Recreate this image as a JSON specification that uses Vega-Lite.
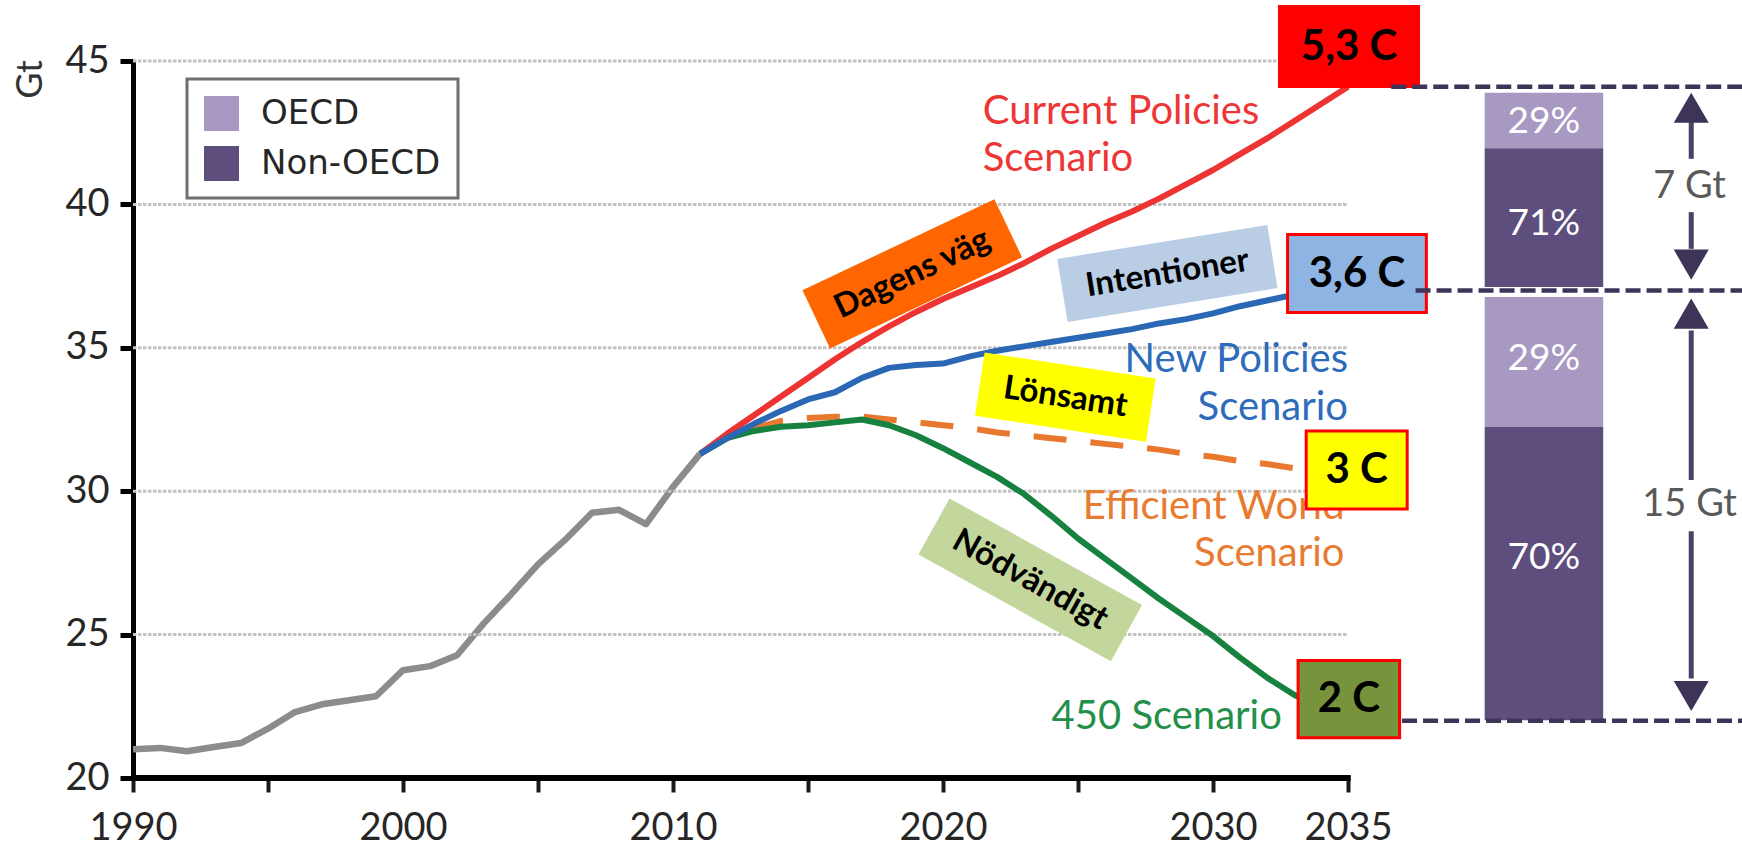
{
  "$schema": "https://vega.github.io/schema/vega-lite/v6.json",
  "width": 1609,
  "height": 717,
  "autosize": {"type": "none"},
  "padding": {"left": 133, "top": 61, "right": 0, "bottom": 70},
  "background": "#ffffff",
  "config": {
    "view": {"stroke": null},
    "font": "Lato",
    "legend": {"strokeWidth": 3}
  },
  "datasets": {
    "grid": [{"v": 25}, {"v": 30}, {"v": 35}, {"v": 40}, {"v": 45}],
    "hist": [
      {"year": 1990, "value": 21.0}, {"year": 1991, "value": 21.05}, {"year": 1992, "value": 20.93},
      {"year": 1993, "value": 21.08}, {"year": 1994, "value": 21.22}, {"year": 1995, "value": 21.72},
      {"year": 1996, "value": 22.3}, {"year": 1997, "value": 22.57}, {"year": 1998, "value": 22.71},
      {"year": 1999, "value": 22.85}, {"year": 2000, "value": 23.76}, {"year": 2001, "value": 23.9},
      {"year": 2002, "value": 24.28}, {"year": 2003, "value": 25.4}, {"year": 2004, "value": 26.4},
      {"year": 2005, "value": 27.45}, {"year": 2006, "value": 28.3}, {"year": 2007, "value": 29.25},
      {"year": 2008, "value": 29.35}, {"year": 2009, "value": 28.85}, {"year": 2010, "value": 30.15},
      {"year": 2011, "value": 31.3}
    ],
    "scen": [
      {"s": "CP", "year": 2011, "value": 31.3}, {"s": "CP", "year": 2012, "value": 32.0}, {"s": "CP", "year": 2013, "value": 32.65},
      {"s": "CP", "year": 2014, "value": 33.3}, {"s": "CP", "year": 2015, "value": 33.95}, {"s": "CP", "year": 2016, "value": 34.6},
      {"s": "CP", "year": 2017, "value": 35.2}, {"s": "CP", "year": 2018, "value": 35.75}, {"s": "CP", "year": 2019, "value": 36.25},
      {"s": "CP", "year": 2020, "value": 36.7}, {"s": "CP", "year": 2021, "value": 37.1}, {"s": "CP", "year": 2022, "value": 37.5},
      {"s": "CP", "year": 2023, "value": 37.95}, {"s": "CP", "year": 2024, "value": 38.45}, {"s": "CP", "year": 2025, "value": 38.9},
      {"s": "CP", "year": 2026, "value": 39.35}, {"s": "CP", "year": 2027, "value": 39.75}, {"s": "CP", "year": 2028, "value": 40.2},
      {"s": "CP", "year": 2029, "value": 40.7}, {"s": "CP", "year": 2030, "value": 41.2}, {"s": "CP", "year": 2031, "value": 41.75},
      {"s": "CP", "year": 2032, "value": 42.3}, {"s": "CP", "year": 2033, "value": 42.9}, {"s": "CP", "year": 2034, "value": 43.5},
      {"s": "CP", "year": 2035, "value": 44.1},
      {"s": "NP", "year": 2011, "value": 31.3}, {"s": "NP", "year": 2012, "value": 31.85}, {"s": "NP", "year": 2013, "value": 32.35},
      {"s": "NP", "year": 2014, "value": 32.8}, {"s": "NP", "year": 2015, "value": 33.2}, {"s": "NP", "year": 2016, "value": 33.45},
      {"s": "NP", "year": 2017, "value": 33.95}, {"s": "NP", "year": 2018, "value": 34.3}, {"s": "NP", "year": 2019, "value": 34.4},
      {"s": "NP", "year": 2020, "value": 34.45}, {"s": "NP", "year": 2021, "value": 34.7}, {"s": "NP", "year": 2022, "value": 34.9},
      {"s": "NP", "year": 2023, "value": 35.05}, {"s": "NP", "year": 2024, "value": 35.2}, {"s": "NP", "year": 2025, "value": 35.35},
      {"s": "NP", "year": 2026, "value": 35.5}, {"s": "NP", "year": 2027, "value": 35.65}, {"s": "NP", "year": 2028, "value": 35.85},
      {"s": "NP", "year": 2029, "value": 36.0}, {"s": "NP", "year": 2030, "value": 36.2}, {"s": "NP", "year": 2031, "value": 36.45},
      {"s": "NP", "year": 2032, "value": 36.65}, {"s": "NP", "year": 2033, "value": 36.85}, {"s": "NP", "year": 2034, "value": 37.0},
      {"s": "NP", "year": 2035, "value": 37.05},
      {"s": "EW", "year": 2011, "value": 31.3}, {"s": "EW", "year": 2012, "value": 31.85}, {"s": "EW", "year": 2013, "value": 32.2},
      {"s": "EW", "year": 2014, "value": 32.45}, {"s": "EW", "year": 2015, "value": 32.55}, {"s": "EW", "year": 2016, "value": 32.6},
      {"s": "EW", "year": 2017, "value": 32.6}, {"s": "EW", "year": 2018, "value": 32.5}, {"s": "EW", "year": 2019, "value": 32.4},
      {"s": "EW", "year": 2020, "value": 32.3}, {"s": "EW", "year": 2021, "value": 32.2}, {"s": "EW", "year": 2022, "value": 32.05},
      {"s": "EW", "year": 2023, "value": 31.95}, {"s": "EW", "year": 2024, "value": 31.85}, {"s": "EW", "year": 2025, "value": 31.75},
      {"s": "EW", "year": 2026, "value": 31.65}, {"s": "EW", "year": 2027, "value": 31.55}, {"s": "EW", "year": 2028, "value": 31.45},
      {"s": "EW", "year": 2029, "value": 31.3}, {"s": "EW", "year": 2030, "value": 31.2}, {"s": "EW", "year": 2031, "value": 31.05},
      {"s": "EW", "year": 2032, "value": 30.95}, {"s": "EW", "year": 2033, "value": 30.8}, {"s": "EW", "year": 2034, "value": 30.65},
      {"s": "EW", "year": 2035, "value": 30.55},
      {"s": "450", "year": 2011, "value": 31.3}, {"s": "450", "year": 2012, "value": 31.85}, {"s": "450", "year": 2013, "value": 32.1},
      {"s": "450", "year": 2014, "value": 32.25}, {"s": "450", "year": 2015, "value": 32.3}, {"s": "450", "year": 2016, "value": 32.4},
      {"s": "450", "year": 2017, "value": 32.5}, {"s": "450", "year": 2018, "value": 32.3}, {"s": "450", "year": 2019, "value": 31.95},
      {"s": "450", "year": 2020, "value": 31.5}, {"s": "450", "year": 2021, "value": 31.0}, {"s": "450", "year": 2022, "value": 30.5},
      {"s": "450", "year": 2023, "value": 29.9}, {"s": "450", "year": 2024, "value": 29.15}, {"s": "450", "year": 2025, "value": 28.35},
      {"s": "450", "year": 2026, "value": 27.65}, {"s": "450", "year": 2027, "value": 26.95}, {"s": "450", "year": 2028, "value": 26.25},
      {"s": "450", "year": 2029, "value": 25.6}, {"s": "450", "year": 2030, "value": 24.95}, {"s": "450", "year": 2031, "value": 24.2},
      {"s": "450", "year": 2032, "value": 23.5}, {"s": "450", "year": 2033, "value": 22.9}, {"s": "450", "year": 2034, "value": 22.45},
      {"s": "450", "year": 2035, "value": 22.0}
    ],
    "slabels": [
      {"s": "CP", "label": "Current Policies\nScenario", "x": 2021.47, "y": 42.81},
      {"s": "NP", "label": "New Policies\nScenario", "x": 2035.0, "y": 34.15},
      {"s": "EW", "label": "Efficient World\nScenario", "x": 2034.87, "y": 29.04},
      {"s": "450", "label": "450 Scenario", "x": 2032.55, "y": 21.72}
    ],
    "tags": [
      {"tag": "Dagens väg", "x": 2018.86, "y": 37.58},
      {"tag": "Intentioner", "x": 2028.31, "y": 37.59},
      {"tag": "Lönsamt", "x": 2024.53, "y": 33.28},
      {"tag": "Nödvändigt", "x": 2023.23, "y": 26.91}
    ],
    "temps": [
      {"t": "5,3 C", "x0": 2032.46, "x1": 2037.61, "y0": 44.11, "y1": 46.9, "xc": 2035.04, "yc": 45.5},
      {"t": "3,6 C", "x0": 2032.76, "x1": 2037.9, "y0": 36.23, "y1": 38.95, "xc": 2035.33, "yc": 37.59},
      {"t": "3 C", "x0": 2033.45, "x1": 2037.19, "y0": 29.38, "y1": 32.1, "xc": 2035.32, "yc": 30.74},
      {"t": "2 C", "x0": 2033.15, "x1": 2036.91, "y0": 21.4, "y1": 24.1, "xc": 2035.03, "yc": 22.75}
    ],
    "bars": [
      {"region": "OECD", "lo": 41.96, "hi": 43.89},
      {"region": "Non-OECD", "lo": 37.12, "hi": 41.96},
      {"region": "OECD", "lo": 32.24, "hi": 36.77},
      {"region": "Non-OECD", "lo": 22.01, "hi": 32.24}
    ],
    "pcts": [
      {"label": "29%", "v": 42.87}, {"label": "71%", "v": 39.3},
      {"label": "29%", "v": 34.6}, {"label": "70%", "v": 27.68}
    ],
    "levels": [{"x0": 2036.6, "v": 44.1}, {"x0": 2037.5, "v": 37.0}, {"x0": 2037.0, "v": 22.0}],
    "shafts": [{"a": 42.87, "b": 41.59}, {"a": 39.73, "b": 38.45}, {"a": 35.6, "b": 30.39}, {"a": 28.6, "b": 23.47}],
    "heads": [{"dir": "up", "v": 43.37}, {"dir": "down", "v": 37.9}, {"dir": "up", "v": 36.19}, {"dir": "down", "v": 22.86}],
    "gaps": [{"label": "7 Gt", "v": 40.6}, {"label": "15 Gt", "v": 29.51}],
    "base": [{"v": 20}]
  },
  "layer": [
    {
      "data": {"name": "hist"},
      "mark": {"type": "line", "color": "#8a8c8e", "strokeWidth": 6.5, "strokeJoin": "round"},
      "encoding": {
        "x": {
          "field": "year", "type": "quantitative",
          "scale": {"domain": [1990, 2049.59], "nice": false, "zero": false},
          "axis": {
            "values": [1990, 1995, 2000, 2005, 2010, 2015, 2020, 2025, 2030, 2035],
            "labelExpr": "(datum.value % 10 === 0 || datum.value === 2035) ? datum.label : ''",
            "format": "d", "domain": false, "grid": false, "ticks": true,
            "tickSize": 14, "tickWidth": 4, "tickColor": "#1a1a1a",
            "labelFont": "Lato", "labelFontSize": 38, "labelColor": "#262626", "labelPadding": 17,
            "labelFlush": false, "labelOverlap": false, "labelBound": false, "title": null
          }
        },
        "y": {
          "field": "value", "type": "quantitative",
          "scale": {"domain": [20, 45], "nice": false, "zero": false},
          "axis": {
            "values": [20, 25, 30, 35, 40, 45], "format": "d",
            "domain": true, "domainColor": "#000000", "domainWidth": 5, "grid": false,
            "ticks": true, "tickSize": 13, "tickWidth": 5, "tickColor": "#000000",
            "labelFont": "Lato", "labelFontSize": 38, "labelColor": "#262626", "labelPadding": 11,
            "labelOverlap": false, "labelBound": false, "labelFlush": false,
            "title": "Gt", "titleFont": "Lato", "titleFontSize": 36, "titleFontWeight": "normal", "titleColor": "#333333",
            "titleAngle": -90, "titleX": -103, "titleY": 18, "titleAlign": "center", "titleBaseline": "middle"
          }
        }
      }
    },
    {
      "data": {"name": "grid"},
      "mark": {"type": "rule", "color": "#c3c3c3", "strokeWidth": 3, "strokeDash": [3.5, 1.5]},
      "encoding": {
        "x": {"datum": 1990, "type": "quantitative", "scale": {"domain": [1990, 2049.59], "nice": false, "zero": false}},
        "x2": {"datum": 2035},
        "y": {"field": "v", "type": "quantitative", "scale": {"domain": [20, 45], "nice": false, "zero": false}}
      }
    },
    {
      "data": {"name": "slabels"},
      "transform": [{"filter": "datum.s === 'CP'"}],
      "mark": {"type": "text", "font": "Lato", "fontSize": 40, "color": "#ee3636", "align": "left", "baseline": "alphabetic", "lineBreak": "\n", "lineHeight": 47},
      "encoding": {
        "x": {"field": "x", "type": "quantitative", "scale": {"domain": [1990, 2049.59], "nice": false, "zero": false}},
        "y": {"field": "y", "type": "quantitative", "scale": {"domain": [20, 45], "nice": false, "zero": false}},
        "text": {"field": "label"}
      }
    },
    {
      "data": {"name": "slabels"},
      "transform": [{"filter": "datum.s === 'NP'"}],
      "mark": {"type": "text", "font": "Lato", "fontSize": 40, "color": "#2e6bbb", "align": "right", "baseline": "alphabetic", "lineBreak": "\n", "lineHeight": 48},
      "encoding": {
        "x": {"field": "x", "type": "quantitative", "scale": {"domain": [1990, 2049.59], "nice": false, "zero": false}},
        "y": {"field": "y", "type": "quantitative", "scale": {"domain": [20, 45], "nice": false, "zero": false}},
        "text": {"field": "label"}
      }
    },
    {
      "data": {"name": "slabels"},
      "transform": [{"filter": "datum.s === 'EW'"}],
      "mark": {"type": "text", "font": "Lato", "fontSize": 40, "color": "#e97b30", "align": "right", "baseline": "alphabetic", "lineBreak": "\n", "lineHeight": 47},
      "encoding": {
        "x": {"field": "x", "type": "quantitative", "scale": {"domain": [1990, 2049.59], "nice": false, "zero": false}},
        "y": {"field": "y", "type": "quantitative", "scale": {"domain": [20, 45], "nice": false, "zero": false}},
        "text": {"field": "label"}
      }
    },
    {
      "data": {"name": "slabels"},
      "transform": [{"filter": "datum.s === '450'"}],
      "mark": {"type": "text", "font": "Lato", "fontSize": 40, "color": "#23904a", "align": "right", "baseline": "alphabetic"},
      "encoding": {
        "x": {"field": "x", "type": "quantitative", "scale": {"domain": [1990, 2049.59], "nice": false, "zero": false}},
        "y": {"field": "y", "type": "quantitative", "scale": {"domain": [20, 45], "nice": false, "zero": false}},
        "text": {"field": "label"}
      }
    },
    {
      "data": {"name": "scen"},
      "transform": [{"filter": "datum.s === 'EW'"}],
      "mark": {"type": "line", "color": "#e8782e", "strokeWidth": 6, "strokeDash": [33, 24], "strokeCap": "butt"},
      "encoding": {
        "x": {"field": "year", "type": "quantitative", "scale": {"domain": [1990, 2049.59], "nice": false, "zero": false}},
        "y": {"field": "value", "type": "quantitative", "scale": {"domain": [20, 45], "nice": false, "zero": false}}
      }
    },
    {
      "data": {"name": "scen"},
      "transform": [{"filter": "datum.s === '450'"}],
      "mark": {"type": "line", "color": "#17823f", "strokeWidth": 6, "strokeJoin": "round"},
      "encoding": {
        "x": {"field": "year", "type": "quantitative", "scale": {"domain": [1990, 2049.59], "nice": false, "zero": false}},
        "y": {"field": "value", "type": "quantitative", "scale": {"domain": [20, 45], "nice": false, "zero": false}}
      }
    },
    {
      "data": {"name": "scen"},
      "transform": [{"filter": "datum.s === 'CP'"}],
      "mark": {"type": "line", "color": "#ee3333", "strokeWidth": 6, "strokeJoin": "round"},
      "encoding": {
        "x": {"field": "year", "type": "quantitative", "scale": {"domain": [1990, 2049.59], "nice": false, "zero": false}},
        "y": {"field": "value", "type": "quantitative", "scale": {"domain": [20, 45], "nice": false, "zero": false}}
      }
    },
    {
      "data": {"name": "scen"},
      "transform": [{"filter": "datum.s === 'NP'"}],
      "mark": {"type": "line", "color": "#2a68b6", "strokeWidth": 6, "strokeJoin": "round"},
      "encoding": {
        "x": {"field": "year", "type": "quantitative", "scale": {"domain": [1990, 2049.59], "nice": false, "zero": false}},
        "y": {"field": "value", "type": "quantitative", "scale": {"domain": [20, 45], "nice": false, "zero": false}}
      }
    },
    {
      "data": {"name": "tags"},
      "transform": [{"filter": "datum.tag === 'Dagens väg'"}],
      "mark": {"type": "point", "shape": "M-1,-0.303L1,-0.303L1,0.303L-1,0.303Z", "size": 45156, "angle": 334.6, "filled": true, "color": "#ff6600", "opacity": 1, "strokeWidth": 0},
      "encoding": {
        "x": {"field": "x", "type": "quantitative", "scale": {"domain": [1990, 2049.59], "nice": false, "zero": false}},
        "y": {"field": "y", "type": "quantitative", "scale": {"domain": [20, 45], "nice": false, "zero": false}}
      }
    },
    {
      "data": {"name": "tags"},
      "transform": [{"filter": "datum.tag === 'Intentioner'"}],
      "mark": {"type": "point", "shape": "M-1,-0.301L1,-0.301L1,0.301L-1,0.301Z", "size": 45240, "angle": 350.8, "filled": true, "color": "#b9cde5", "opacity": 1, "strokeWidth": 0},
      "encoding": {
        "x": {"field": "x", "type": "quantitative", "scale": {"domain": [1990, 2049.59], "nice": false, "zero": false}},
        "y": {"field": "y", "type": "quantitative", "scale": {"domain": [20, 45], "nice": false, "zero": false}}
      }
    },
    {
      "data": {"name": "tags"},
      "transform": [{"filter": "datum.tag === 'Lönsamt'"}],
      "mark": {"type": "point", "shape": "M-1,-0.369L1,-0.369L1,0.369L-1,0.369Z", "size": 29929, "angle": 8.65, "filled": true, "color": "#ffff00", "opacity": 1, "strokeWidth": 0},
      "encoding": {
        "x": {"field": "x", "type": "quantitative", "scale": {"domain": [1990, 2049.59], "nice": false, "zero": false}},
        "y": {"field": "y", "type": "quantitative", "scale": {"domain": [20, 45], "nice": false, "zero": false}}
      }
    },
    {
      "data": {"name": "tags"},
      "transform": [{"filter": "datum.tag === 'Nödvändigt'"}],
      "mark": {"type": "point", "shape": "M-1,-0.292L1,-0.292L1,0.292L-1,0.292Z", "size": 48400, "angle": 29.0, "filled": true, "color": "#c3d69b", "opacity": 1, "strokeWidth": 0},
      "encoding": {
        "x": {"field": "x", "type": "quantitative", "scale": {"domain": [1990, 2049.59], "nice": false, "zero": false}},
        "y": {"field": "y", "type": "quantitative", "scale": {"domain": [20, 45], "nice": false, "zero": false}}
      }
    },
    {
      "data": {"name": "tags"},
      "transform": [{"filter": "datum.tag === 'Dagens väg'"}],
      "mark": {"type": "text", "font": "Lato", "fontWeight": "bold", "fontSize": 33, "color": "#000000", "align": "center", "baseline": "middle", "angle": 334.6},
      "encoding": {
        "x": {"field": "x", "type": "quantitative", "scale": {"domain": [1990, 2049.59], "nice": false, "zero": false}},
        "y": {"field": "y", "type": "quantitative", "scale": {"domain": [20, 45], "nice": false, "zero": false}},
        "text": {"field": "tag"}
      }
    },
    {
      "data": {"name": "tags"},
      "transform": [{"filter": "datum.tag === 'Intentioner'"}],
      "mark": {"type": "text", "font": "Lato", "fontWeight": "bold", "fontSize": 33, "color": "#000000", "align": "center", "baseline": "middle", "angle": 350.8},
      "encoding": {
        "x": {"field": "x", "type": "quantitative", "scale": {"domain": [1990, 2049.59], "nice": false, "zero": false}},
        "y": {"field": "y", "type": "quantitative", "scale": {"domain": [20, 45], "nice": false, "zero": false}},
        "text": {"field": "tag"}
      }
    },
    {
      "data": {"name": "tags"},
      "transform": [{"filter": "datum.tag === 'Lönsamt'"}],
      "mark": {"type": "text", "font": "Lato", "fontWeight": "bold", "fontSize": 33, "color": "#000000", "align": "center", "baseline": "middle", "angle": 8.65},
      "encoding": {
        "x": {"field": "x", "type": "quantitative", "scale": {"domain": [1990, 2049.59], "nice": false, "zero": false}},
        "y": {"field": "y", "type": "quantitative", "scale": {"domain": [20, 45], "nice": false, "zero": false}},
        "text": {"field": "tag"}
      }
    },
    {
      "data": {"name": "tags"},
      "transform": [{"filter": "datum.tag === 'Nödvändigt'"}],
      "mark": {"type": "text", "font": "Lato", "fontWeight": "bold", "fontSize": 33, "color": "#000000", "align": "center", "baseline": "middle", "angle": 29.0},
      "encoding": {
        "x": {"field": "x", "type": "quantitative", "scale": {"domain": [1990, 2049.59], "nice": false, "zero": false}},
        "y": {"field": "y", "type": "quantitative", "scale": {"domain": [20, 45], "nice": false, "zero": false}},
        "text": {"field": "tag"}
      }
    },
    {
      "data": {"name": "temps"},
      "mark": {"type": "rect", "stroke": "#ff0000", "strokeWidth": 3, "opacity": 1},
      "encoding": {
        "x": {"field": "x0", "type": "quantitative", "scale": {"domain": [1990, 2049.59], "nice": false, "zero": false}},
        "x2": {"field": "x1"},
        "y": {"field": "y0", "type": "quantitative", "scale": {"domain": [20, 45], "nice": false, "zero": false}},
        "y2": {"field": "y1"},
        "fill": {"field": "t", "type": "nominal", "scale": {"domain": ["5,3 C", "3,6 C", "3 C", "2 C"], "range": ["#ff0000", "#8db4e2", "#ffff00", "#77933c"]}, "legend": null}
      }
    },
    {
      "data": {"name": "temps"},
      "mark": {"type": "text", "font": "Lato", "fontWeight": "bold", "fontSize": 42, "color": "#000000", "align": "center", "baseline": "middle"},
      "encoding": {
        "x": {"field": "xc", "type": "quantitative", "scale": {"domain": [1990, 2049.59], "nice": false, "zero": false}},
        "y": {"field": "yc", "type": "quantitative", "scale": {"domain": [20, 45], "nice": false, "zero": false}},
        "text": {"field": "t"}
      }
    },
    {
      "data": {"name": "bars"},
      "mark": {"type": "rect", "opacity": 1, "strokeWidth": 0},
      "encoding": {
        "x": {"datum": 2040.06, "type": "quantitative", "scale": {"domain": [1990, 2049.59], "nice": false, "zero": false}},
        "x2": {"datum": 2044.45},
        "y": {"field": "lo", "type": "quantitative", "scale": {"domain": [20, 45], "nice": false, "zero": false}},
        "y2": {"field": "hi"},
        "color": {
          "field": "region", "type": "nominal",
          "scale": {"domain": ["OECD", "Non-OECD"], "range": ["#a899c2", "#5e4e7e"]},
          "legend": {
            "orient": "none", "legendX": 54, "legendY": 18, "title": null,
            "symbolType": "square", "symbolSize": 1225, "symbolStrokeWidth": 0, "symbolOpacity": 1,
            "labelFont": "DejaVu Sans", "labelFontSize": 34, "labelColor": "#262626", "labelOffset": 22, "labelLimit": 500,
            "rowPadding": 15, "padding": 17, "strokeColor": "#6f6f6f", "fillColor": "#ffffff"
          }
        }
      }
    },
    {
      "data": {"name": "pcts"},
      "mark": {"type": "text", "font": "Lato", "fontSize": 37, "color": "#ffffff", "align": "center", "baseline": "middle"},
      "encoding": {
        "x": {"datum": 2042.25, "type": "quantitative", "scale": {"domain": [1990, 2049.59], "nice": false, "zero": false}},
        "y": {"field": "v", "type": "quantitative", "scale": {"domain": [20, 45], "nice": false, "zero": false}},
        "text": {"field": "label"}
      }
    },
    {
      "data": {"name": "levels"},
      "mark": {"type": "rule", "color": "#3d3458", "strokeWidth": 4.5, "strokeDash": [15, 6]},
      "encoding": {
        "x": {"field": "x0", "type": "quantitative", "scale": {"domain": [1990, 2049.59], "nice": false, "zero": false}},
        "x2": {"datum": 2049.59},
        "y": {"field": "v", "type": "quantitative", "scale": {"domain": [20, 45], "nice": false, "zero": false}}
      }
    },
    {
      "data": {"name": "shafts"},
      "mark": {"type": "rule", "color": "#4a4068", "strokeWidth": 5},
      "encoding": {
        "x": {"datum": 2047.71, "type": "quantitative", "scale": {"domain": [1990, 2049.59], "nice": false, "zero": false}},
        "y": {"field": "a", "type": "quantitative", "scale": {"domain": [20, 45], "nice": false, "zero": false}},
        "y2": {"field": "b"}
      }
    },
    {
      "data": {"name": "heads"},
      "mark": {"type": "point", "filled": true, "color": "#3d3458", "size": 1225, "opacity": 1, "strokeWidth": 0},
      "encoding": {
        "x": {"datum": 2047.71, "type": "quantitative", "scale": {"domain": [1990, 2049.59], "nice": false, "zero": false}},
        "y": {"field": "v", "type": "quantitative", "scale": {"domain": [20, 45], "nice": false, "zero": false}},
        "shape": {"field": "dir", "type": "nominal", "scale": {"domain": ["up", "down"], "range": ["M0,-0.86L1,0.86L-1,0.86Z", "M-1,-0.86L1,-0.86L0,0.86Z"]}, "legend": null}
      }
    },
    {
      "data": {"name": "gaps"},
      "mark": {"type": "text", "font": "Lato", "fontSize": 38, "color": "#595959", "align": "center", "baseline": "middle"},
      "encoding": {
        "x": {"datum": 2047.65, "type": "quantitative", "scale": {"domain": [1990, 2049.59], "nice": false, "zero": false}},
        "y": {"field": "v", "type": "quantitative", "scale": {"domain": [20, 45], "nice": false, "zero": false}},
        "text": {"field": "label"}
      }
    },
    {
      "data": {"name": "base"},
      "mark": {"type": "rule", "color": "#000000", "strokeWidth": 6},
      "encoding": {
        "x": {"datum": 1990, "type": "quantitative", "scale": {"domain": [1990, 2049.59], "nice": false, "zero": false}},
        "x2": {"datum": 2035.1},
        "y": {"field": "v", "type": "quantitative", "scale": {"domain": [20, 45], "nice": false, "zero": false}}
      }
    }
  ]
}
